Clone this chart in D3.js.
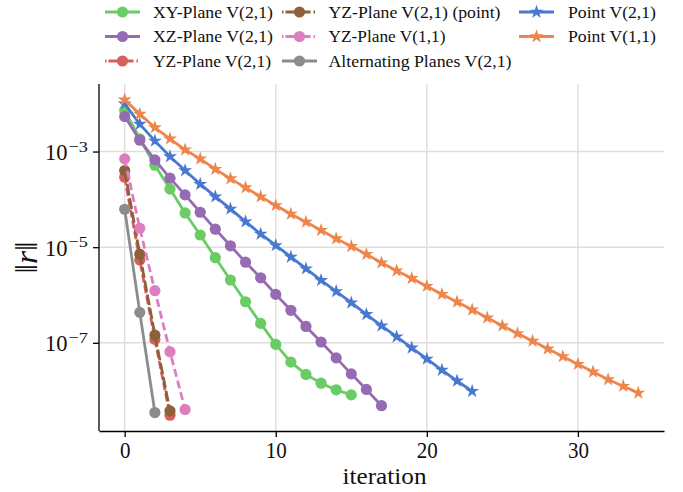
<!DOCTYPE html>
<html>
<head>
<meta charset="utf-8">
<script src="https://cdn.jsdelivr.net/npm/d3@7"></script>
<style>
  html, body { margin: 0; padding: 0; background: #fff; }
  svg { display: block; }
</style>
</head>
<body>
<svg id="chart" width="683" height="492"></svg>
<script>
// Residual norm per iteration for each smoother / relaxation variant
const xyPlane21 = [7.23e-3, 1.85e-3, 5.19e-4, 1.64e-4, 5.20e-5, 1.80e-5, 6.03e-6, 2.06e-6,
  7.23e-7, 2.55e-7, 9.27e-8, 3.94e-8, 2.18e-8, 1.43e-8, 1.04e-8, 8.15e-9];
const xzPlane21 = [5.41e-3, 1.73e-3, 6.70e-4, 2.77e-4, 1.24e-4, 5.38e-5, 2.38e-5, 1.07e-5,
  4.85e-6, 2.29e-6, 1.03e-6, 4.78e-7, 2.20e-7, 1.04e-7, 4.85e-8, 2.24e-8, 1.06e-8, 4.84e-9];
const yzPlane21 = [2.91e-4, 5.40e-6, 1.18e-7, 3.06e-9];
const yzPlane21Point = [4.00e-4, 7.13e-6, 1.45e-7, 3.77e-9];
const yzPlane11 = [7.03e-4, 2.49e-5, 1.23e-6, 6.49e-8, 4.03e-9];
const alternating21 = [6.22e-5, 4.34e-7, 3.48e-9];
const point21 = [9.98e-3, 3.75e-3, 1.67e-3, 7.85e-4, 4.00e-4, 2.08e-4, 1.14e-4, 6.31e-5,
  3.42e-5, 1.89e-5, 1.09e-5, 6.24e-6, 3.55e-6, 2.03e-6, 1.19e-6, 6.89e-7, 3.94e-7, 2.27e-7,
  1.34e-7, 7.85e-8, 4.60e-8, 2.70e-8, 1.60e-8, 9.72e-9];
const point11 = [1.21e-2, 6.07e-3, 3.18e-3, 1.85e-3, 1.09e-3, 7.03e-4, 4.28e-4, 2.72e-4,
  1.76e-4, 1.14e-4, 7.46e-5, 4.95e-5, 3.37e-5, 2.26e-5, 1.51e-5, 1.04e-5, 7.10e-6, 4.73e-6,
  3.22e-6, 2.23e-6, 1.53e-6, 1.04e-6, 7.18e-7, 4.89e-7, 3.34e-7, 2.27e-7, 1.57e-7, 1.09e-7,
  7.48e-8, 5.19e-8, 3.58e-8, 2.47e-8, 1.71e-8, 1.24e-8, 8.97e-9];

const seriesNames = [
  "XY-Plane V(2,1)", "XZ-Plane V(2,1)", "YZ-Plane V(2,1)", "YZ-Plane V(2,1) (point)",
  "YZ-Plane V(1,1)", "Alternating Planes V(2,1)", "Point V(2,1)", "Point V(1,1)"
];
const seriesValues = [xyPlane21, xzPlane21, yzPlane21, yzPlane21Point,
  yzPlane11, alternating21, point21, point11];

const xTicks = [0, 10, 20, 30];
const yTickExponents = [-3, -5, -7];
const xLabel = "iteration";

// Styling per series
const colors = ["#6acc64", "#956cb4", "#d65f5f", "#8c613c", "#dc7ec0", "#8c8c8c", "#4878d0", "#ee854a"];
const markers = ["circle", "circle", "circle", "circle", "circle", "circle", "star", "star"];
const dashes = [null, null, "8,3", "11,3", "8,4", null, null, null];

// Typography: a Times-like serif, stretched to the widths of the LaTeX labels
const font = "'Liberation Serif', serif";
const legendLabelWidths = [120, 120, 118, 172, 117, 183, 88, 88];
const digitWidth = 10.5;

function fit(sel, width) {
  return sel.attr("textLength", width).attr("lengthAdjust", "spacingAndGlyphs");
}

const series = seriesNames.map((name, i) => ({
  name, color: colors[i], marker: markers[i], dash: dashes[i],
  points: seriesValues[i].map((v, k) => ({ it: k, r: v }))
}));

const svg = d3.select("#chart");
const plot = { left: 99, right: 664, top: 84, bottom: 431 };

// x domain with 5% padding on each side
const maxIt = d3.max(series, s => s.points.length - 1);
const xPad = maxIt * 0.05;
const x = d3.scaleLinear().domain([-xPad, maxIt + xPad]).range([plot.left, plot.right]);

// log y domain with 5% padding in decades
const allVals = series.flatMap(s => s.points.map(p => p.r));
const lmin = Math.log10(d3.min(allVals)), lmax = Math.log10(d3.max(allVals));
const yPad = (lmax - lmin) * 0.05;
const y = d3.scaleLog().domain([Math.pow(10, lmin - yPad), Math.pow(10, lmax + yPad)])
  .range([plot.bottom, plot.top]);

// grid
const grid = svg.append("g");
grid.selectAll(".vg").data(xTicks).join("line")
  .attr("x1", d => x(d)).attr("x2", d => x(d))
  .attr("y1", plot.top).attr("y2", plot.bottom)
  .attr("stroke", "#dedede").attr("stroke-width", 1.4);
grid.selectAll(".hg").data(yTickExponents).join("line")
  .attr("x1", plot.left).attr("x2", plot.right)
  .attr("y1", d => y(Math.pow(10, d))).attr("y2", d => y(Math.pow(10, d)))
  .attr("stroke", "#dedede").attr("stroke-width", 1.4);

// lines & markers
const line = d3.line().x(d => x(d.it)).y(d => y(d.r));
const star = d3.symbol().type(d3.symbolStar).size(60);

series.forEach(s => {
  const g = svg.append("g");
  g.append("path").datum(s.points)
    .attr("d", line).attr("fill", "none")
    .attr("stroke", s.color).attr("stroke-width", 2.8)
    .attr("stroke-dasharray", s.dash);
  if (s.marker === "circle") {
    g.selectAll("circle").data(s.points).join("circle")
      .attr("cx", d => x(d.it)).attr("cy", d => y(d.r)).attr("r", 5.6)
      .attr("fill", s.color);
  } else {
    g.selectAll("path.m").data(s.points).join("path").attr("class", "m")
      .attr("d", star)
      .attr("transform", d => `translate(${x(d.it)},${y(d.r)})`)
      .attr("fill", s.color);
  }
});

// axes
const xAxis = svg.append("g").attr("transform", `translate(0,${plot.bottom})`)
  .call(d3.axisBottom(x).tickValues(xTicks).tickSize(6).tickSizeOuter(0).tickFormat(d3.format("d")));
xAxis.select(".domain").attr("stroke", "#000").attr("stroke-width", 1.3);
xAxis.selectAll(".tick line").attr("stroke", "#000").attr("stroke-width", 1.3);
xAxis.selectAll(".tick text").attr("font-size", 23).attr("dy", null).attr("y", 27)
  .style("font-family", font).attr("fill", "#111")
  .each(function(d) { fit(d3.select(this), String(d).length * digitWidth); });

const yAxis = svg.append("g").attr("transform", `translate(${plot.left},0)`)
  .call(d3.axisLeft(y).tickValues(yTickExponents.map(e => Math.pow(10, e)))
    .tickSize(6).tickSizeOuter(0).tickFormat(""));
yAxis.select(".domain").attr("stroke", "#000").attr("stroke-width", 1.3)
  .attr("d", `M0,${plot.top}V${plot.bottom}`);
yAxis.selectAll(".tick line").attr("stroke", "#000").attr("stroke-width", 1.3);

// y tick labels as 10^{e}
const yLab = svg.append("g");
yTickExponents.forEach(e => {
  const yy = y(Math.pow(10, e));
  fit(yLab.append("text").attr("x", 45).attr("y", yy + 8.5).attr("font-size", 23)
    .style("font-family", font).attr("fill", "#111").text("10"), 22.5);
  fit(yLab.append("text").attr("x", 68.5).attr("y", yy).attr("font-size", 15.5)
    .style("font-family", font).attr("fill", "#111").text("\u2212" + Math.abs(e)), 19.5);
});

// axis titles
fit(svg.append("text").attr("x", (plot.left + plot.right) / 2 + 3).attr("y", 484)
  .attr("text-anchor", "middle").attr("font-size", 23)
  .style("font-family", font).attr("fill", "#111").text(xLabel), 84);

const yTitle = svg.append("text")
  .attr("transform", `translate(37,${(plot.top + plot.bottom) / 2}) rotate(-90)`)
  .attr("text-anchor", "middle").attr("font-size", 32)
  .style("font-family", font).attr("fill", "#111");
yTitle.append("tspan").text("\u2016");
yTitle.append("tspan").attr("font-style", "italic").text("r");
yTitle.append("tspan").text("\u2016");
fit(yTitle, 32);

// legend: 3 columns, column-major order
const legCols = [105, 282, 519];
const legTextX = [153, 328.5, 568];
const legRows = [12, 36.5, 61];
const leg = svg.append("g");
series.forEach((s, i) => {
  const col = Math.floor(i / 3), row = i % 3;
  const lx = legCols[col], ly = legRows[row];
  const g = leg.append("g").attr("transform", `translate(${lx},${ly})`);
  g.append("line").attr("x1", 0).attr("x2", 35).attr("y1", 0).attr("y2", 0)
    .attr("stroke", s.color).attr("stroke-width", 2.8)
    .attr("stroke-dasharray", s.dash ? "1.5,2,25,3" : null);
  if (s.marker === "circle") {
    g.append("circle").attr("cx", 17.5).attr("cy", 0).attr("r", 5.6).attr("fill", s.color);
  } else {
    g.append("path").attr("d", star).attr("transform", "translate(17.5,0)").attr("fill", s.color);
  }
  fit(leg.append("text").attr("x", legTextX[col]).attr("y", ly + 5.6).attr("font-size", 17)
    .style("font-family", font).attr("fill", "#111").text(s.name), legendLabelWidths[i]);
});
</script>
</body>
</html>
